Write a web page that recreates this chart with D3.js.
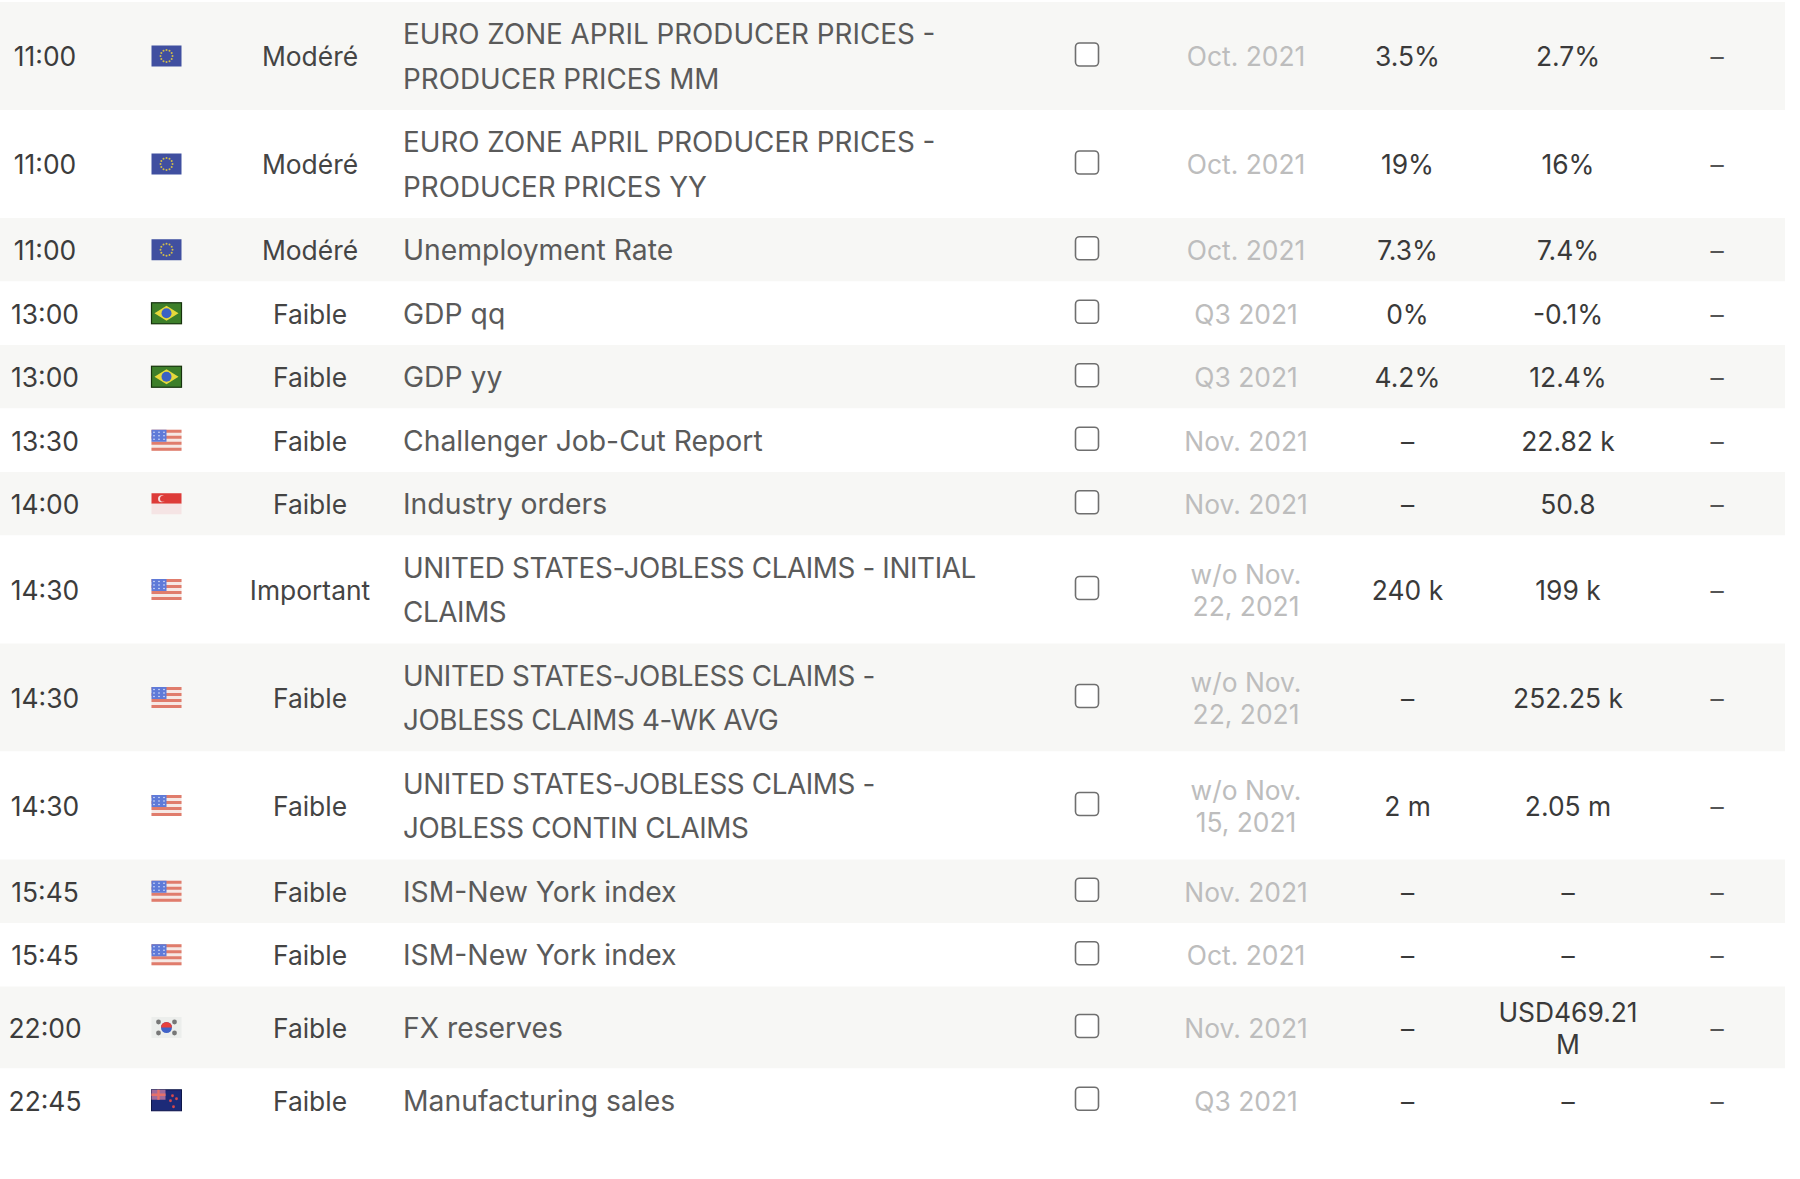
<!DOCTYPE html>
<html><head><meta charset="utf-8">
<script src="https://cdnjs.cloudflare.com/ajax/libs/d3/7.8.5/d3.min.js"></script>
<style>
html,body{margin:0;padding:0;background:#fff}
svg{display:block}
text{font-family:Inter,sans-serif;font-size:26.4px}
text.title{font-size:27.8px}
text.title.mixed{font-size:28.3px}
text.title.wide{letter-spacing:-0.38px}
</style></head><body>
<svg id="c" width="1800" height="1179" xmlns="http://www.w3.org/2000/svg"></svg>
<script>
const times=["11:00","11:00","11:00","13:00","13:00","13:30","14:00","14:30","14:30","14:30","15:45","15:45","22:00","22:45"];
const flags=["eu","eu","eu","br","br","us","sg","us","us","us","us","us","kr","nz"];
const importance=["Modéré","Modéré","Modéré","Faible","Faible","Faible","Faible","Important","Faible","Faible","Faible","Faible","Faible","Faible"];
const titles=[["EURO ZONE APRIL PRODUCER PRICES -","PRODUCER PRICES MM"],["EURO ZONE APRIL PRODUCER PRICES -","PRODUCER PRICES YY"],["Unemployment Rate"],["GDP qq"],["GDP yy"],["Challenger Job-Cut Report"],["Industry orders"],["UNITED STATES-JOBLESS CLAIMS - INITIAL","CLAIMS"],["UNITED STATES-JOBLESS CLAIMS -","JOBLESS CLAIMS 4-WK AVG"],["UNITED STATES-JOBLESS CLAIMS -","JOBLESS CONTIN CLAIMS"],["ISM-New York index"],["ISM-New York index"],["FX reserves"],["Manufacturing sales"]];
const periods=[["Oct. 2021"],["Oct. 2021"],["Oct. 2021"],["Q3 2021"],["Q3 2021"],["Nov. 2021"],["Nov. 2021"],["w/o Nov.","22, 2021"],["w/o Nov.","22, 2021"],["w/o Nov.","15, 2021"],["Nov. 2021"],["Oct. 2021"],["Nov. 2021"],["Q3 2021"]];
const forecasts=[["3.5%"],["19%"],["7.3%"],["0%"],["4.2%"],["–"],["–"],["240 k"],["–"],["2 m"],["–"],["–"],["–"],["–"]];
const previousValues=[["2.7%"],["16%"],["7.4%"],["-0.1%"],["12.4%"],["22.82 k"],["50.8"],["199 k"],["252.25 k"],["2.05 m"],["–"],["–"],["USD469.21","M"],["–"]];
const actuals=times.map(()=>"–");

const columnKeys=["time","flag","importance","title","check","period","forecast","previous","actual"];
const columnX=[45,166.5,310,403,1087,1246,1407.5,1568,1717];
const x=d3.scaleOrdinal(columnKeys,columnX);

const tableW=1785, tableTop=2;
const rowH=i=>titles[i].length===2?108:(previousValues[i].length===2?82:63.5);
const rowIdx=d3.range(times.length);
const edges=[tableTop,...d3.cumsum(rowIdx,rowH).map(v=>v+tableTop)];
const y=d3.scaleOrdinal(rowIdx,rowIdx.map(i=>(edges[i]+edges[i+1])/2));

const svg=d3.select("#c");
const defs=svg.append("defs");
defs.append("filter").attr("id","soft").attr("x","-10%").attr("y","-10%").attr("width","120%").attr("height","120%")
  .append("feGaussianBlur").attr("stdDeviation",0.7);

const row=svg.selectAll("g.row").data(rowIdx).join("g").attr("class","row");
row.append("rect").attr("x",0).attr("y",i=>edges[i]).attr("width",tableW).attr("height",i=>edges[i+1]-edges[i])
   .attr("fill",i=>i%2===0?"#f7f7f5":"#fff");

function lines(sel,col,getLines,lh,color,anchor,clsFn){
  sel.each(function(i){
    const ls=getLines(i);
    const t=d3.select(this).append("text").attr("class",clsFn?clsFn(i):null).attr("text-anchor",anchor||"middle").attr("fill",color)
      .attr("x",x(col)).attr("y",y(i)+10.4-(ls.length-1)*lh/2);
    ls.forEach((s,k)=>t.append("tspan").attr("x",x(col)).attr("dy",k?lh:0).text(s));
  });
}
const titleClass=i=>{
  const first=titles[i][0];
  if(first!==first.toUpperCase()) return "title mixed";
  return first.includes("STATES")?"title wide":"title";
};
lines(row,"time",i=>[times[i]],0,"#3c3c3c");
lines(row,"importance",i=>[importance[i]],0,"#444");
lines(row,"title",i=>titles[i],44.8,"#5a5a5a","start",titleClass);
lines(row,"period",i=>periods[i],31.5,"#bdbdbd");
lines(row,"forecast",i=>forecasts[i],32,"#3a3a3a");
lines(row,"previous",i=>previousValues[i],32,"#3a3a3a");
lines(row,"actual",i=>[actuals[i]],0,"#555");

row.append("rect").attr("x",x("check")-11.5).attr("y",i=>y(i)-13).attr("width",23).attr("height",23)
   .attr("rx",4).attr("fill","#fff").attr("stroke","#6f6f6f").attr("stroke-width",1.6);

const fw=30,fh=21;
const painters={
 eu(g){g.append("rect").attr("width",fw).attr("height",fh).attr("fill","#3f4fa0");
   g.selectAll("circle").data(d3.range(12)).join("circle").attr("r",1).attr("fill","#d2bd4a")
    .attr("cx",k=>fw/2+6*Math.cos(k*Math.PI/6)).attr("cy",k=>fh/2+6*Math.sin(k*Math.PI/6));},
 br(g){g.append("rect").attr("width",fw).attr("height",fh).attr("fill","#3d7f2c").attr("stroke","#16330f").attr("stroke-width",1.2);
   g.append("path").attr("d",`M${fw/2} 3L${fw-3} ${fh/2}L${fw/2} ${fh-3}L3 ${fh/2}Z`).attr("fill","#e6d93a");
   g.append("circle").attr("cx",fw/2).attr("cy",fh/2).attr("r",5).attr("fill","#3a62c4");},
 us(g){g.append("rect").attr("width",fw).attr("height",fh).attr("fill","#f6e8e4");
   g.selectAll("rect.s").data(d3.range(4)).join("rect").attr("class","s").attr("x",0).attr("width",fw)
    .attr("y",k=>k*6).attr("height",3).attr("fill","#e07c6c");
   g.append("rect").attr("width",15).attr("height",12).attr("fill","#5f7ad8");
   g.selectAll("circle").data(d3.range(9)).join("circle").attr("r",.8).attr("fill","#dfe6fa")
    .attr("cx",k=>2.5+(k%3)*5).attr("cy",k=>2.5+Math.floor(k/3)*3.5);},
 sg(g){g.append("rect").attr("width",fw).attr("height",fh/2).attr("fill","#dd3b37");
   g.append("rect").attr("y",fh/2).attr("width",fw).attr("height",fh/2).attr("fill","#f5e4e4");
   g.append("circle").attr("cx",10).attr("cy",5.5).attr("r",3.5).attr("fill","#f6dcdc");
   g.append("circle").attr("cx",11.5).attr("cy",5.5).attr("r",3).attr("fill","#dd3b37");},
 kr(g){g.append("rect").attr("width",fw).attr("height",fh).attr("fill","#eceeec");
   g.append("circle").attr("cx",fw/2).attr("cy",fh/2).attr("r",5.5).attr("fill","#3f62c8");
   g.append("path").attr("d",`M${fw/2-5.5} ${fh/2}A5.5 5.5 0 0 1 ${fw/2+5.5} ${fh/2}Z`).attr("fill","#e8413c");
   g.selectAll("circle.t").data([[7,5],[23,5],[7,16],[23,16]]).join("circle").attr("class","t")
    .attr("cx",d=>d[0]).attr("cy",d=>d[1]).attr("r",2.4).attr("fill","#777");},
 nz(g){g.append("rect").attr("width",fw).attr("height",fh).attr("fill","#1f2a78").attr("stroke","#10164a").attr("stroke-width",1);
   g.append("rect").attr("width",14).attr("height",10).attr("fill","#a06a9a");
   g.append("path").attr("d","M0 5H14M7 0V10").attr("stroke","#e6706a").attr("stroke-width",2.4);
   g.selectAll("circle").data([[21,6],[25,9],[19,11],[22,17]]).join("circle")
    .attr("cx",d=>d[0]).attr("cy",d=>d[1]).attr("r",1.4).attr("fill","#d8484a");}
};
row.each(function(i){
  const g=d3.select(this).append("g").attr("filter","url(#soft)")
    .attr("transform",`translate(${x("flag")-fw/2},${y(i)-fh/2})`);
  painters[flags[i]](g);
});
</script></body></html>
